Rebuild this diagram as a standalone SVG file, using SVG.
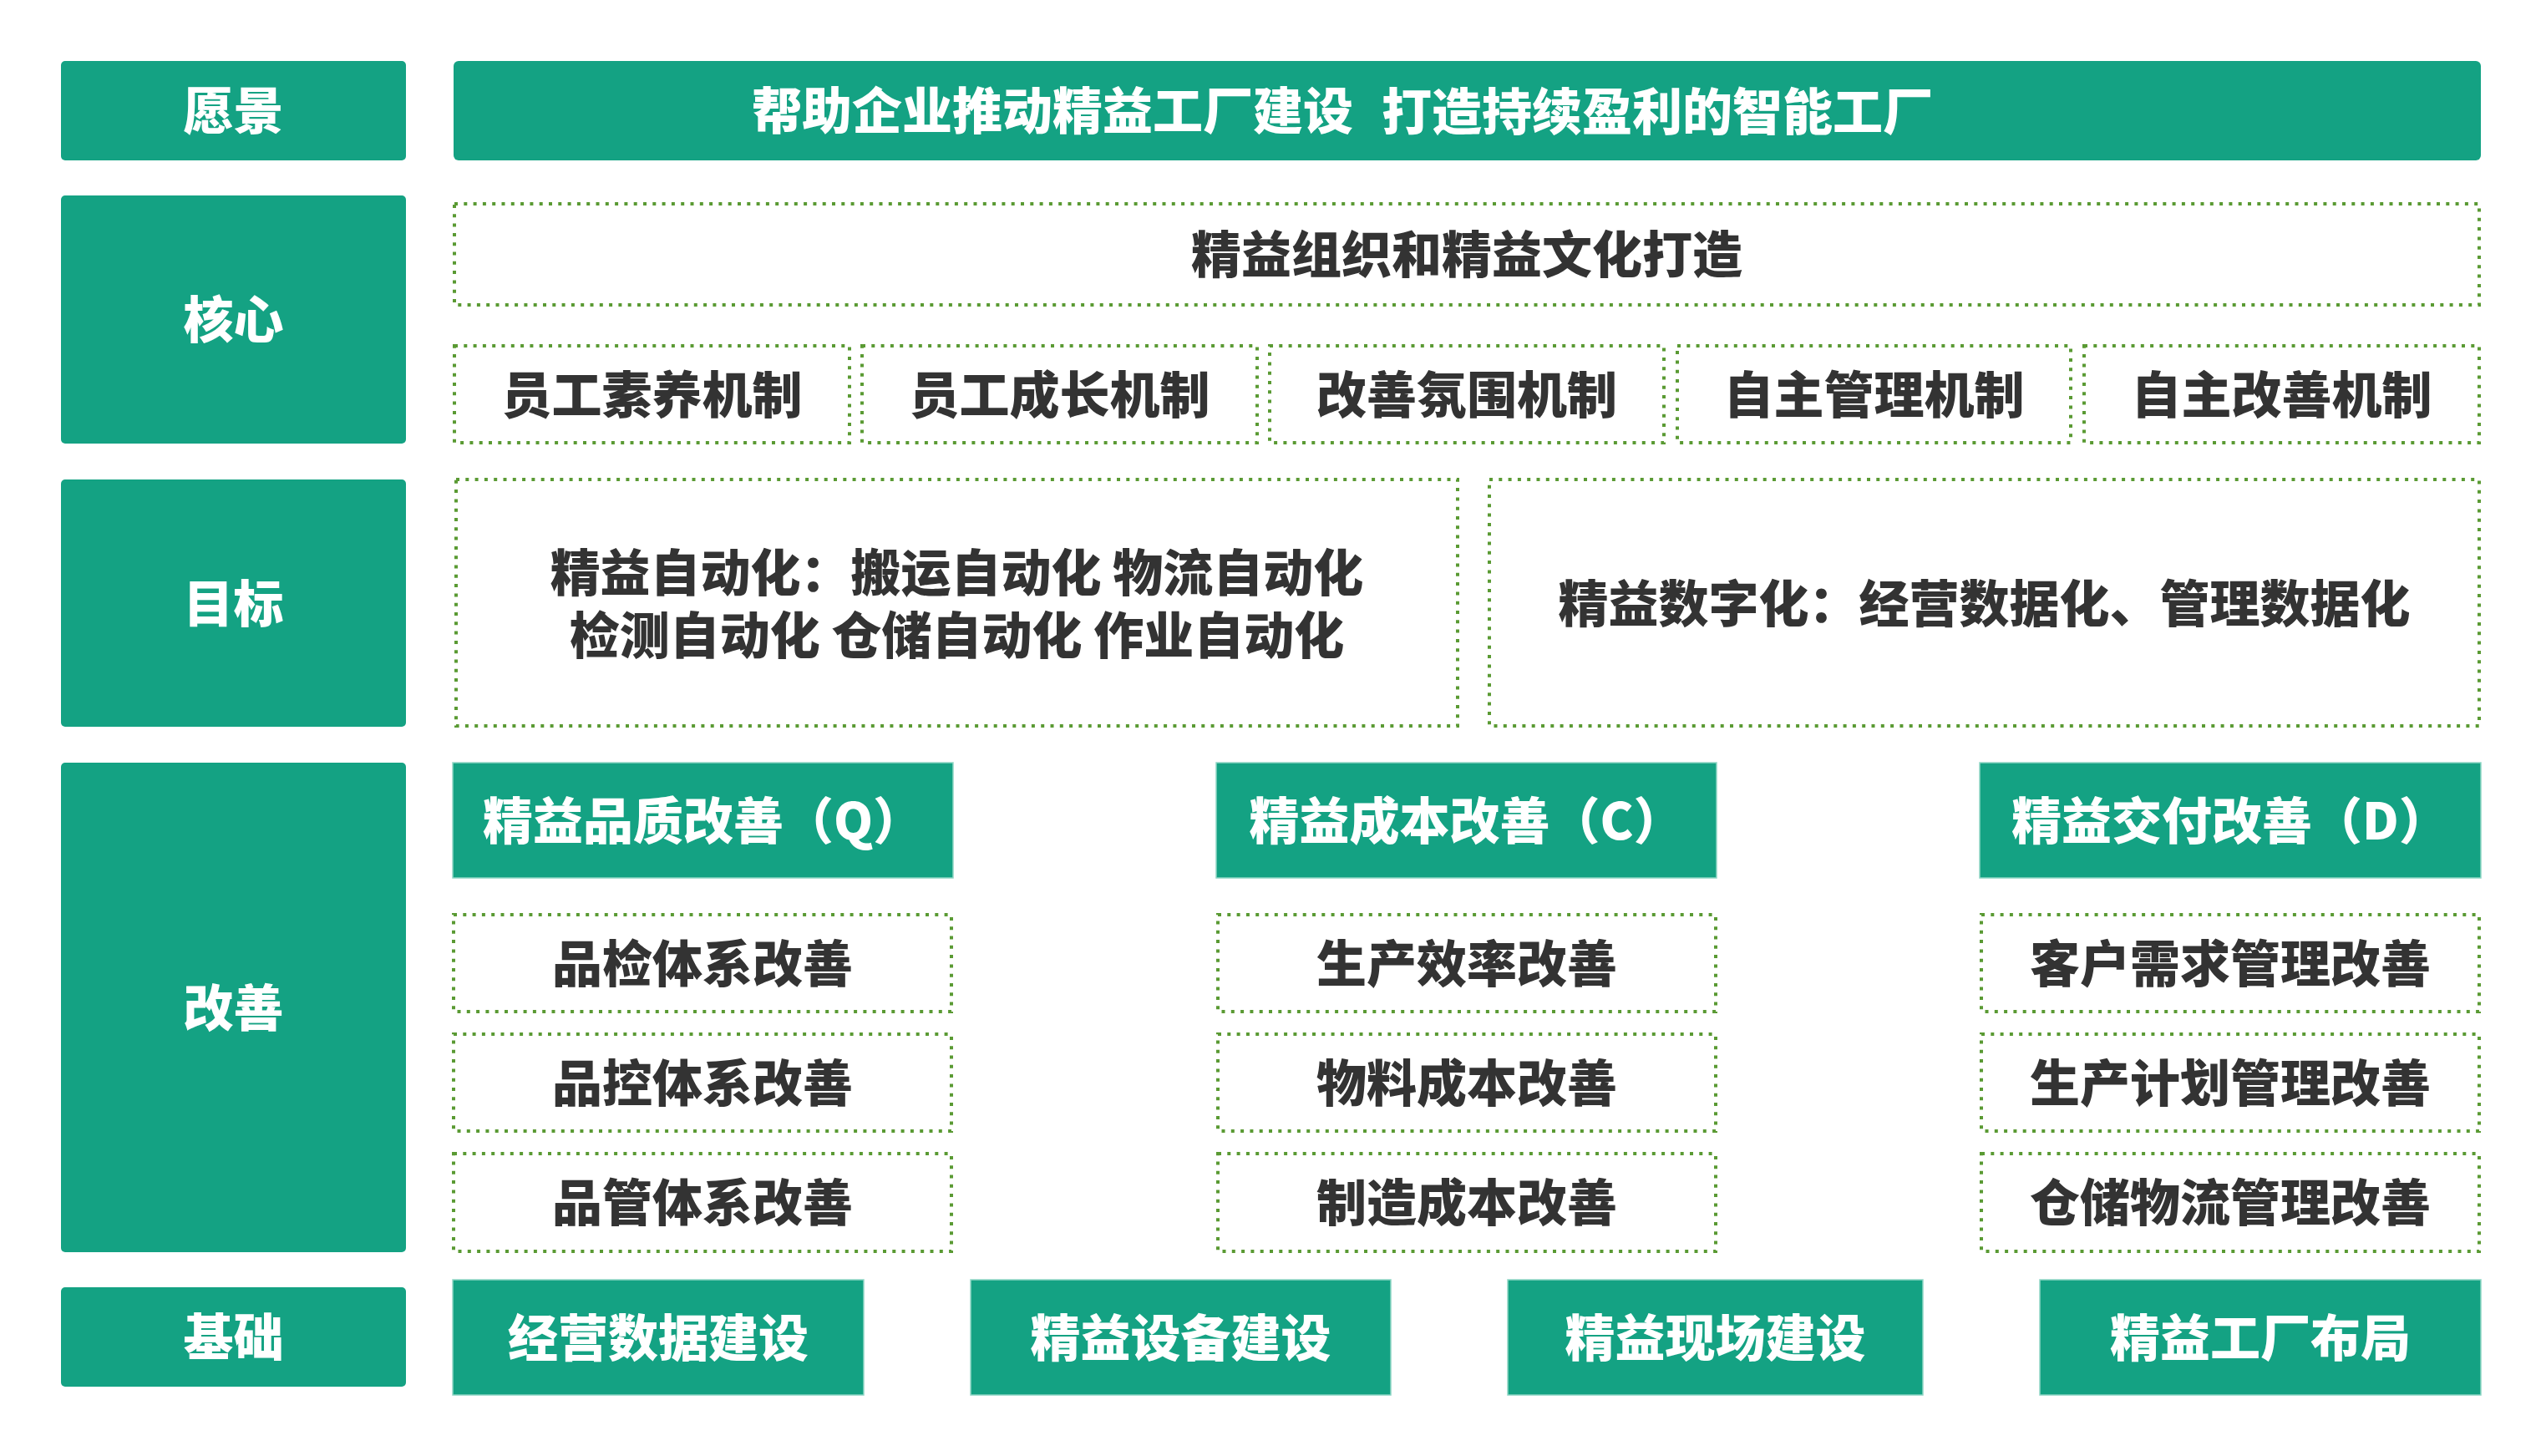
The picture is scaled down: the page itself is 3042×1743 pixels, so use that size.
<svg xmlns="http://www.w3.org/2000/svg" width="3042" height="1743" viewBox="0 0 3042 1743">
<style>
  text { font-family: "Noto Sans CJK SC", "Liberation Sans", sans-serif; font-weight: 900; font-size: 60px; text-anchor: middle; dominant-baseline: central; }
  .w { fill: #ffffff; }
  .d { fill: #333333; }
  .lab { fill: #14A283; }
  .hdr { fill: #14A283; stroke: #8fd6c5; stroke-width: 1.5; }
  .dot { fill: none; stroke: #5A9A33; stroke-width: 4; stroke-dasharray: 4 7.3; }
</style>
<rect width="3042" height="1743" fill="#ffffff"/>
<g id="connectors"/>

<!-- left labels -->
<g id="label-vision"><rect class="lab" x="73" y="73" width="413" height="119" rx="5"/><text class="w" x="279.5" y="128.5">愿景</text></g>
<g id="label-core"><rect class="lab" x="73" y="234" width="413" height="297" rx="5"/><text class="w" x="279.5" y="378.5">核心</text></g>
<g id="label-goal"><rect class="lab" x="73" y="574" width="413" height="296" rx="5"/><text class="w" x="279.5" y="718">目标</text></g>
<g id="label-improve"><rect class="lab" x="73" y="913" width="413" height="586" rx="5"/><text class="w" x="279.5" y="1202">改善</text></g>
<g id="label-base"><rect class="lab" x="73" y="1541" width="413" height="119" rx="5"/><text class="w" x="279.5" y="1596.5">基础</text></g>

<!-- vision banner -->
<g id="vision-banner">
  <rect class="lab" x="543" y="73" width="2427" height="119" rx="6"/>
  <text class="w" x="900" y="128.5" style="text-anchor:start">帮助企业推动精益工厂建设<tspan dx="34">打造持续盈利的智能工厂</tspan></text>
</g>

<!-- core -->
<g id="core-culture"><rect class="dot" x="544" y="244" width="2424" height="121"/><text class="d" x="1756" y="300.5">精益组织和精益文化打造</text></g>
<g id="core-1"><rect class="dot" x="544" y="414" width="473" height="116"/><text class="d" x="780.5" y="468">员工素养机制</text></g>
<g id="core-2"><rect class="dot" x="1032" y="414" width="473" height="116"/><text class="d" x="1268.5" y="468">员工成长机制</text></g>
<g id="core-3"><rect class="dot" x="1520" y="414" width="472" height="116"/><text class="d" x="1756" y="468">改善氛围机制</text></g>
<g id="core-4"><rect class="dot" x="2008" y="414" width="471" height="116"/><text class="d" x="2243.5" y="468">自主管理机制</text></g>
<g id="core-5"><rect class="dot" x="2495" y="414" width="473" height="116"/><text class="d" x="2731.5" y="468">自主改善机制</text></g>

<!-- goals -->
<g id="goal-automation">
  <rect class="dot" x="546" y="574" width="1199" height="295"/>
  <text class="d"><tspan x="1145.5" y="681">精益自动化：搬运自动化 物流自动化</tspan><tspan x="1145.5" y="756">检测自动化 仓储自动化 作业自动化</tspan></text>
</g>
<g id="goal-digital">
  <rect class="dot" x="1783" y="574" width="1185" height="295"/>
  <text class="d" x="2375.5" y="718">精益数字化：经营数据化、管理数据化</text>
</g>

<!-- improvement columns -->
<g id="q-header"><rect class="hdr" x="542" y="913" width="599" height="138"/><text class="w" x="841.5" y="978">精益品质改善（Q）</text></g>
<g id="q-1"><rect class="dot" x="543" y="1095" width="596" height="116"/><text class="d" x="841" y="1149">品检体系改善</text></g>
<g id="q-2"><rect class="dot" x="543" y="1238" width="596" height="116"/><text class="d" x="841" y="1292">品控体系改善</text></g>
<g id="q-3"><rect class="dot" x="543" y="1381" width="596" height="117"/><text class="d" x="841" y="1435.5">品管体系改善</text></g>

<g id="c-header"><rect class="hdr" x="1456" y="913" width="599" height="138"/><text class="w" x="1755.5" y="978">精益成本改善（C）</text></g>
<g id="c-1"><rect class="dot" x="1458" y="1095" width="596" height="116"/><text class="d" x="1756" y="1149">生产效率改善</text></g>
<g id="c-2"><rect class="dot" x="1458" y="1238" width="596" height="116"/><text class="d" x="1756" y="1292">物料成本改善</text></g>
<g id="c-3"><rect class="dot" x="1458" y="1381" width="596" height="117"/><text class="d" x="1756" y="1435.5">制造成本改善</text></g>

<g id="d-header"><rect class="hdr" x="2370" y="913" width="600" height="138"/><text class="w" x="2670" y="978">精益交付改善（D）</text></g>
<g id="d-1"><rect class="dot" x="2372" y="1095" width="596" height="116"/><text class="d" x="2670" y="1149">客户需求管理改善</text></g>
<g id="d-2"><rect class="dot" x="2372" y="1238" width="596" height="116"/><text class="d" x="2670" y="1292">生产计划管理改善</text></g>
<g id="d-3"><rect class="dot" x="2372" y="1381" width="596" height="117"/><text class="d" x="2670" y="1435.5">仓储物流管理改善</text></g>

<!-- foundation -->
<g id="base-1"><rect class="hdr" x="542" y="1532" width="492" height="138"/><text class="w" x="788" y="1597">经营数据建设</text></g>
<g id="base-2"><rect class="hdr" x="1162" y="1532" width="503" height="138"/><text class="w" x="1413.5" y="1597">精益设备建设</text></g>
<g id="base-3"><rect class="hdr" x="1805" y="1532" width="497" height="138"/><text class="w" x="2053.5" y="1597">精益现场建设</text></g>
<g id="base-4"><rect class="hdr" x="2442" y="1532" width="528" height="138"/><text class="w" x="2706" y="1597">精益工厂布局</text></g>
</svg>
